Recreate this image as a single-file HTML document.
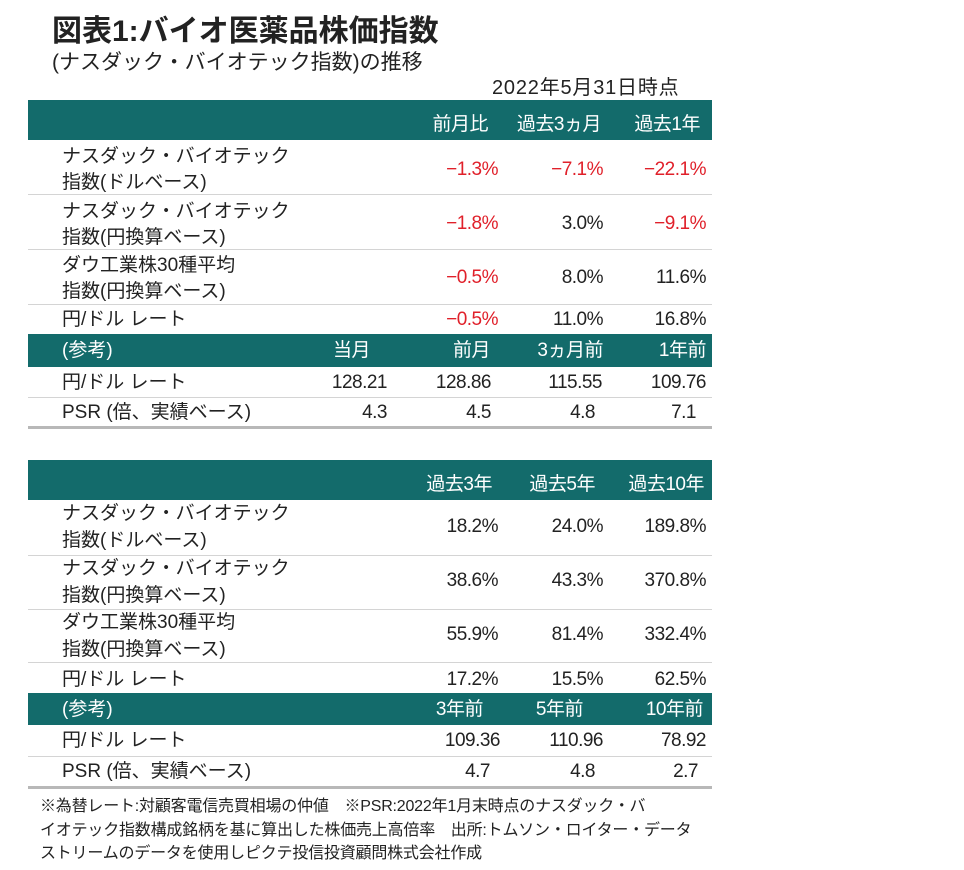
<!DOCTYPE html>
<html><head><meta charset="utf-8">
<style>
body{margin:0;background:#fff;width:964px;height:870px;position:relative;overflow:hidden;font-family:"Liberation Sans","Noto Sans CJK JP",sans-serif;color:#222}
.a{position:absolute}
.bar{position:absolute;left:28px;width:684px;background:#136b6b}
.ln{position:absolute;left:28px;width:684px;height:1px;background:#d4d4d4}
.thk{position:absolute;left:28px;width:684px;height:3px;background:#b8b8b8}
.t{position:absolute;font-size:19px;line-height:22px;white-space:nowrap}
.r{text-align:right;width:120px;letter-spacing:-0.5px}
.w{color:#fff}
.red{color:#e0202a}
</style></head><body>
<div class="a" style="left:52px;top:14px;font-size:30px;font-weight:bold;line-height:36px">図表1:バイオ医薬品株価指数</div>
<div class="a" style="left:52px;top:50px;font-size:21px;line-height:26px">(ナスダック・バイオテック指数)の推移</div>
<div class="a" style="left:492px;top:76px;font-size:20px;line-height:24px;letter-spacing:0.8px">2022年5月31日時点</div>

<!-- table 1 -->
<div>
<div class="bar" style="top:100px;height:40px"></div>
<div class="t w r" style="left:368px;top:114px">前月比</div>
<div class="t w r" style="left:481px;top:114px">過去3ヵ月</div>
<div class="t w r" style="left:580px;top:114px">過去1年</div>

<div class="t" style="left:62px;top:146px">ナスダック・バイオテック</div>
<div class="t" style="left:62px;top:172px">指数(ドルベース)</div>
<div class="t r red" style="left:378px;top:159px">−1.3%</div>
<div class="t r red" style="left:483px;top:159px">−7.1%</div>
<div class="t r red" style="left:586px;top:159px">−22.1%</div>
<div class="ln" style="top:194px"></div>

<div class="t" style="left:62px;top:201px">ナスダック・バイオテック</div>
<div class="t" style="left:62px;top:227px">指数(円換算ベース)</div>
<div class="t r red" style="left:378px;top:213px">−1.8%</div>
<div class="t r" style="left:483px;top:213px">3.0%</div>
<div class="t r red" style="left:586px;top:213px">−9.1%</div>
<div class="ln" style="top:249px"></div>

<div class="t" style="left:62px;top:255px">ダウ工業株30種平均</div>
<div class="t" style="left:62px;top:281px">指数(円換算ベース)</div>
<div class="t r red" style="left:378px;top:267px">−0.5%</div>
<div class="t r" style="left:483px;top:267px">8.0%</div>
<div class="t r" style="left:586px;top:267px">11.6%</div>
<div class="ln" style="top:304px"></div>

<div class="t" style="left:62px;top:309px">円/ドル レート</div>
<div class="t r red" style="left:378px;top:309px">−0.5%</div>
<div class="t r" style="left:483px;top:309px">11.0%</div>
<div class="t r" style="left:586px;top:309px">16.8%</div>

<div class="bar" style="top:334px;height:33px"></div>
<div class="t w" style="left:62px;top:340px">(参考)</div>
<div class="t w r" style="left:250px;top:340px">当月</div>
<div class="t w r" style="left:370px;top:340px">前月</div>
<div class="t w r" style="left:483px;top:340px">3ヵ月前</div>
<div class="t w r" style="left:586px;top:340px">1年前</div>

<div class="t" style="left:62px;top:372px">円/ドル レート</div>
<div class="t r" style="left:267px;top:372px">128.21</div>
<div class="t r" style="left:371px;top:372px">128.86</div>
<div class="t r" style="left:482px;top:372px">115.55</div>
<div class="t r" style="left:586px;top:372px">109.76</div>
<div class="ln" style="top:397px"></div>

<div class="t" style="left:62px;top:402px">PSR (倍、実績ベース)</div>
<div class="t r" style="left:267px;top:402px">4.3</div>
<div class="t r" style="left:371px;top:402px">4.5</div>
<div class="t r" style="left:475px;top:402px">4.8</div>
<div class="t r" style="left:576px;top:402px">7.1</div>
<div class="thk" style="top:426px"></div>
</div>

<!-- table 2 -->
<div>
<div class="bar" style="top:460px;height:40px"></div>
<div class="t w r" style="left:372px;top:474px">過去3年</div>
<div class="t w r" style="left:475px;top:474px">過去5年</div>
<div class="t w r" style="left:584px;top:474px">過去10年</div>

<div class="t" style="left:62px;top:503px">ナスダック・バイオテック</div>
<div class="t" style="left:62px;top:530px">指数(ドルベース)</div>
<div class="t r" style="left:378px;top:516px">18.2%</div>
<div class="t r" style="left:483px;top:516px">24.0%</div>
<div class="t r" style="left:586px;top:516px">189.8%</div>
<div class="ln" style="top:555px"></div>

<div class="t" style="left:62px;top:558px">ナスダック・バイオテック</div>
<div class="t" style="left:62px;top:585px">指数(円換算ベース)</div>
<div class="t r" style="left:378px;top:570px">38.6%</div>
<div class="t r" style="left:483px;top:570px">43.3%</div>
<div class="t r" style="left:586px;top:570px">370.8%</div>
<div class="ln" style="top:609px"></div>

<div class="t" style="left:62px;top:612px">ダウ工業株30種平均</div>
<div class="t" style="left:62px;top:639px">指数(円換算ベース)</div>
<div class="t r" style="left:378px;top:624px">55.9%</div>
<div class="t r" style="left:483px;top:624px">81.4%</div>
<div class="t r" style="left:586px;top:624px">332.4%</div>
<div class="ln" style="top:662px"></div>

<div class="t" style="left:62px;top:669px">円/ドル レート</div>
<div class="t r" style="left:378px;top:669px">17.2%</div>
<div class="t r" style="left:483px;top:669px">15.5%</div>
<div class="t r" style="left:586px;top:669px">62.5%</div>

<div class="bar" style="top:693px;height:32px"></div>
<div class="t w" style="left:62px;top:699px">(参考)</div>
<div class="t w r" style="left:363px;top:699px">3年前</div>
<div class="t w r" style="left:463px;top:699px">5年前</div>
<div class="t w r" style="left:583px;top:699px">10年前</div>

<div class="t" style="left:62px;top:730px">円/ドル レート</div>
<div class="t r" style="left:380px;top:730px">109.36</div>
<div class="t r" style="left:483px;top:730px">110.96</div>
<div class="t r" style="left:586px;top:730px">78.92</div>
<div class="ln" style="top:756px"></div>

<div class="t" style="left:62px;top:761px">PSR (倍、実績ベース)</div>
<div class="t r" style="left:370px;top:761px">4.7</div>
<div class="t r" style="left:475px;top:761px">4.8</div>
<div class="t r" style="left:578px;top:761px">2.7</div>
<div class="thk" style="top:786px"></div>
</div>

<div class="a" style="left:40px;top:795px;width:700px;font-size:16px;line-height:23.5px;letter-spacing:-0.2px">※為替レート:対顧客電信売買相場の仲値　※PSR:2022年1月末時点のナスダック・バ<br>イオテック指数構成銘柄を基に算出した株価売上高倍率　出所:トムソン・ロイター・データ<br>ストリームのデータを使用しピクテ投信投資顧問株式会社作成</div>
</body></html>
